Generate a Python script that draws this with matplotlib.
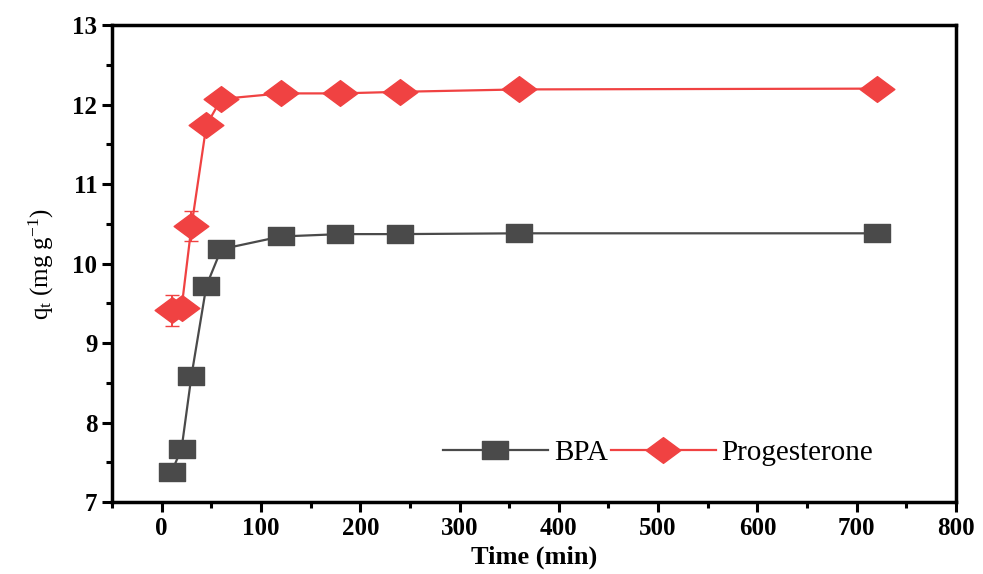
import matplotlib
matplotlib.use("Agg")
import matplotlib.pyplot as plt
from matplotlib.path import Path
from matplotlib.lines import Line2D
from matplotlib.ticker import MultipleLocator

time_min = [10, 20, 30, 45, 60, 120, 180, 240, 360, 720]
bpa = [7.38, 7.67, 8.59, 9.72, 10.18, 10.34, 10.37, 10.37, 10.38, 10.38]
bpa_err = [0.03, 0.03, 0.03, 0.04, 0.04, 0.03, 0.02, 0.02, 0.02, 0.02]
prog = [9.41, 9.44, 10.47, 11.74, 12.07, 12.14, 12.14, 12.16, 12.19, 12.20]
prog_err = [0.19, 0.05, 0.19, 0.05, 0.04, 0.03, 0.03, 0.03, 0.02, 0.02]

plt.rcParams['font.family'] = ['Liberation Serif', 'DejaVu Serif']
plt.rcParams['mathtext.fontset'] = 'custom'
plt.rcParams['mathtext.rm'] = 'Liberation Serif'
plt.rcParams['mathtext.it'] = 'Liberation Serif'

fig = plt.figure(figsize=(9.83, 5.74), dpi=100)
ax = fig.add_axes([0.114, 0.1254, 0.8585, 0.8310])

sq = Path([(-1.45, -1), (1.45, -1), (1.45, 1), (-1.45, 1), (-1.45, -1)],
          [Path.MOVETO, Path.LINETO, Path.LINETO, Path.LINETO, Path.CLOSEPOLY])
dm = Path([(-1.35, 0), (0, -1), (1.35, 0), (0, 1), (-1.35, 0)],
          [Path.MOVETO, Path.LINETO, Path.LINETO, Path.LINETO, Path.CLOSEPOLY])

c_bpa = '#4a4a4a'
c_prog = '#f04242'

ax.errorbar(time_min, bpa, yerr=bpa_err, color=c_bpa, lw=1.6, marker=sq,
            markersize=19, capsize=5, elinewidth=1.4, zorder=3)
ax.errorbar(time_min, prog, yerr=prog_err, color=c_prog, lw=1.6, marker=dm,
            markersize=25, capsize=5, elinewidth=1.4, zorder=3)

ax.set_xlim(-50, 800)
ax.set_ylim(7, 13)
ax.xaxis.set_major_locator(MultipleLocator(100))
ax.xaxis.set_minor_locator(MultipleLocator(50))
ax.yaxis.set_major_locator(MultipleLocator(1))
ax.yaxis.set_minor_locator(MultipleLocator(0.5))
ax.tick_params(which='major', direction='out', length=7, width=2.2, labelsize=18)
ax.tick_params(which='minor', direction='out', length=4, width=2.2)
for lab in ax.get_xticklabels() + ax.get_yticklabels():
    lab.set_fontweight('bold')
for s in ax.spines.values():
    s.set_linewidth(2.5)

ax.set_xlabel('Time (min)', fontsize=19, fontweight='bold', labelpad=4)
ax.set_ylabel(r'q$_\mathrm{t}$ (mg g$^{-1}$)', fontsize=18, labelpad=12)

handles = [
    Line2D([], [], color=c_bpa, lw=1.6, marker=sq, markersize=19),
    Line2D([], [], color=c_prog, lw=1.6, marker=dm, markersize=25),
]
labels = ['BPA', 'Progesterone']
ax.legend(handles, labels, loc='center', bbox_to_anchor=(0.647, 0.103), ncol=2,
          frameon=False, fontsize=21, handlelength=3.6, columnspacing=0.1,
          handletextpad=0.2, markerscale=1.0)

fig.savefig('out.png', dpi=100)
